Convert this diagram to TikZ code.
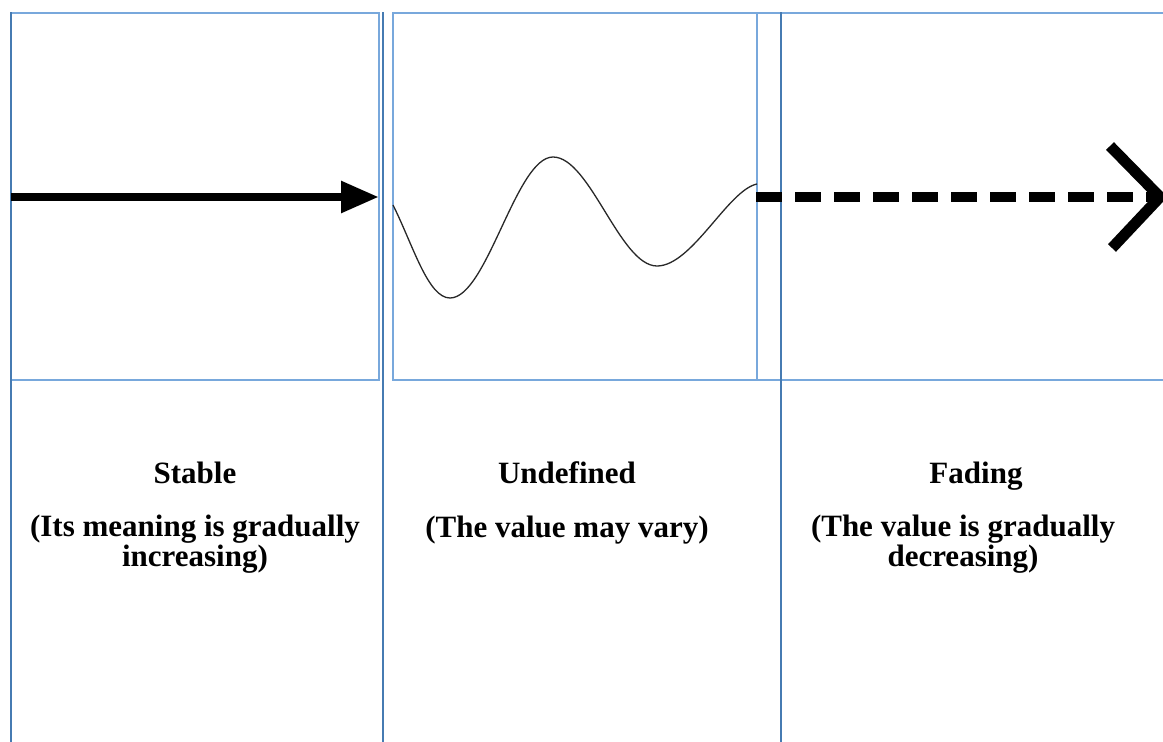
\documentclass[tikz,border=0pt]{standalone}
\usepackage{fontspec}
\setmainfont{Liberation Serif}
\usetikzlibrary{arrows.meta}
\definecolor{boxblue}{RGB}{120,168,220}
\definecolor{darkblue}{RGB}{70,123,178}
\definecolor{wavegray}{RGB}{40,40,40}
\begin{document}
\begin{tikzpicture}[x=1pt,y=-1pt,
  lightbox/.style={draw=boxblue,line width=1.8pt},
  divider/.style={draw=darkblue,line width=2.6pt},
  label/.style={font=\bfseries\fontsize{31}{28}\selectfont,align=center,inner sep=0pt},
  title/.style={label,anchor=base},
  solidarrow/.style={line width=8.5pt,-{Triangle[length=38pt,width=30pt]}},
  dashedarrow/.style={line width=10.5pt,dash pattern=on 26pt off 13pt},
  chevron/.style={line width=11pt,miter limit=10}]
\clip (0,0) rectangle (1163,742);
\fill[white] (0,0) rectangle (1163,742);
% light boxes
\draw[lightbox] (11,13) rectangle (379,380);
\draw[lightbox] (393,13) rectangle (757,380);
\draw[lightbox] (1175,13) -- (757,13) -- (757,380) -- (1175,380);
% dividers
\draw[divider] (11,12) -- (11,745);
\draw[divider] (383,12) -- (383,745);
\draw[divider] (781,12) -- (781,745);
% solid arrow
\coordinate (a1) at (11,197);
\coordinate (a2) at (379,197);
\draw[solidarrow] (a1) -- (a2);
% wave
\coordinate (w0) at (393,205);
\coordinate (w1) at (450,298);
\coordinate (w2) at (553,157);
\coordinate (w3) at (657,266);
\coordinate (w4) at (757,184);
\draw[wavegray,line width=1.3pt]
  (w0) .. controls (413,245) and (428,298) .. (w1)
       .. controls (487,298) and (516,157) .. (w2)
       .. controls (590,157) and (620,266) .. (w3)
       .. controls (692,266) and (728,190) .. (w4);
% dashed arrow
\coordinate (d1) at (756,197);
\coordinate (d2) at (1160,197);
\draw[dashedarrow] (d1) -- (d2);
\coordinate (c1) at (1110,146);
\coordinate (c2) at (1112,248);
\draw[chevron] (c1) -- (d2) -- (c2);
% labels
\node[title] (t1) at (195,483) {Stable};
\node[label] (s1) at (195,544) {(Its meaning is gradually\\increasing)};
\node[title] (t2) at (567,483) {Undefined};
\node[label] (s2) at (567,530) {(The value may vary)};
\node[title] (t3) at (976,483) {Fading};
\node[label] (s3) at (963,544) {(The value is gradually\\decreasing)};
\end{tikzpicture}
\end{document}
